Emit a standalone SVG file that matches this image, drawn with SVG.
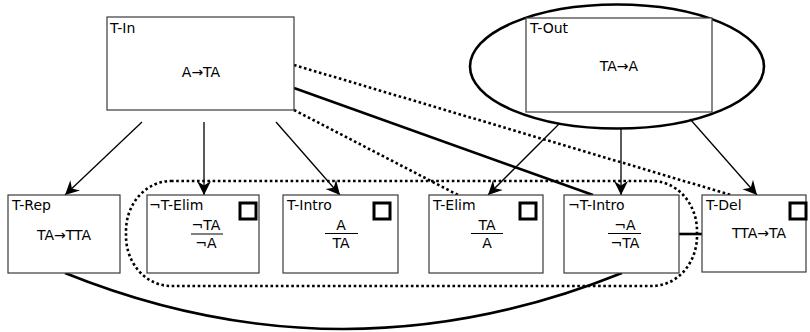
<svg xmlns="http://www.w3.org/2000/svg" width="810" height="332" viewBox="0 0 810 332">
  <style>
    .box { fill: #fff; stroke: #3a3a3a; stroke-width: 1.2; }
    .chk { fill: none; stroke: #000; stroke-width: 3; }
    .lbl { font-family: "DejaVu Sans", sans-serif; font-size: 14px; fill: #000; }
    .mid { text-anchor: middle; }
    .bar { stroke: #000; stroke-width: 1; }
    .thin { fill: none; stroke: #000; stroke-width: 1.3; }
    .thick { fill: none; stroke: #000; stroke-width: 2.6; }
    .dots { fill: none; stroke: #000; stroke-width: 2.6; stroke-dasharray: 2.6 2.6; }
  </style>
  <defs>
    <marker id="head" markerUnits="userSpaceOnUse" viewBox="-14 -8 15 16" markerWidth="15" markerHeight="16" refX="0" refY="0" orient="auto">
      <path d="M0,0 L-14,-7 L-9.5,0 L-14,7 Z" fill="#000"/>
    </marker>
  </defs>

  <!-- grouping outline around the rule boxes -->
  <rect class="dots" x="126" y="181" width="571" height="105" rx="45" ry="50"/>

  <g id="connectors">
    <!-- T-In fan-out -->
    <line class="thin" x1="142" y1="122" x2="65" y2="195" marker-end="url(#head)"/>
    <line class="thin" x1="204" y1="122" x2="204" y2="195" marker-end="url(#head)"/>
    <line class="thin" x1="276" y1="122" x2="340" y2="195" marker-end="url(#head)"/>
    <line class="dots" x1="294" y1="65" x2="731" y2="195"/>
    <line class="thick" x1="294" y1="88" x2="593" y2="195"/>
    <line class="dots" x1="294" y1="110" x2="458" y2="195"/>
    <!-- T-Out fan-out -->
    <line class="thin" x1="559" y1="124" x2="488" y2="195" marker-end="url(#head)"/>
    <line class="thin" x1="621" y1="128" x2="621" y2="195" marker-end="url(#head)"/>
    <line class="thin" x1="690" y1="119" x2="757" y2="195" marker-end="url(#head)"/>
    <!-- T-Rep to neg T-Intro -->
    <path class="thick" d="M65,273 Q343,385 622,273"/>
    <!-- neg T-Intro to T-Del -->
    <line class="thick" x1="679" y1="234" x2="702" y2="234"/>
  </g>

  <g id="t-in">
    <rect class="box" x="107" y="17" width="187" height="93"/>
    <text class="lbl" x="110" y="33">T-In</text>
    <text class="lbl mid" x="201" y="77">A→TA</text>
  </g>

  <g id="t-out">
    <ellipse cx="617" cy="66.5" rx="147" ry="62" fill="none" stroke="#000" stroke-width="2.6"/>
    <rect class="box" x="526" y="18" width="186" height="94"/>
    <text class="lbl" x="530" y="33">T-Out</text>
    <text class="lbl mid" x="619" y="71">TA→A</text>
  </g>

  <g id="t-rep">
    <rect class="box" x="8" y="195" width="112" height="78"/>
    <text class="lbl" x="12" y="210">T-Rep</text>
    <text class="lbl mid" x="64" y="240">TA→TTA</text>
  </g>

  <g id="neg-t-elim">
    <rect class="box" x="147" y="195" width="112" height="78"/>
    <text class="lbl" x="149" y="210">¬T-Elim</text>
    <rect class="chk" x="240" y="203" width="16" height="16"/>
    <text class="lbl mid" x="206" y="230">¬TA</text>
    <line class="bar" x1="191" y1="234" x2="223" y2="234"/>
    <text class="lbl mid" x="206" y="248">¬A</text>
  </g>

  <g id="t-intro">
    <rect class="box" x="283" y="195" width="115" height="78"/>
    <text class="lbl" x="287" y="210">T-Intro</text>
    <rect class="chk" x="374" y="203" width="16" height="16"/>
    <text class="lbl mid" x="341" y="230">A</text>
    <line class="bar" x1="325" y1="233.5" x2="358" y2="233.5"/>
    <text class="lbl mid" x="341" y="248">TA</text>
  </g>

  <g id="t-elim">
    <rect class="box" x="429" y="195" width="114" height="78"/>
    <text class="lbl" x="433" y="210">T-Elim</text>
    <rect class="chk" x="520" y="203" width="16" height="16"/>
    <text class="lbl mid" x="487" y="230">TA</text>
    <line class="bar" x1="471" y1="233.5" x2="503" y2="233.5"/>
    <text class="lbl mid" x="487" y="248">A</text>
  </g>

  <g id="neg-t-intro">
    <rect class="box" x="564" y="195" width="115" height="78"/>
    <text class="lbl" x="568" y="210">¬T-Intro</text>
    <text class="lbl mid" x="625" y="230">¬A</text>
    <line class="bar" x1="608" y1="233.5" x2="641" y2="233.5"/>
    <text class="lbl mid" x="625" y="248">¬TA</text>
  </g>

  <g id="t-del">
    <rect class="box" x="702" y="195" width="104" height="77"/>
    <text class="lbl" x="706" y="210">T-Del</text>
    <rect class="chk" x="790" y="203" width="16" height="16"/>
    <text class="lbl mid" x="759" y="238">TTA→TA</text>
  </g>
</svg>
